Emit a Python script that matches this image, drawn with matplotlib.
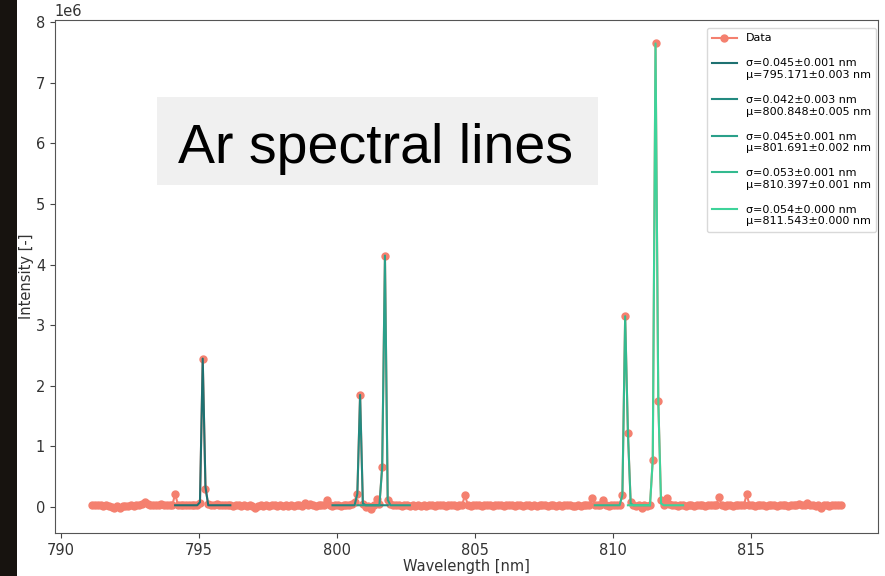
import numpy as np
import matplotlib
matplotlib.use("Agg")
import matplotlib.pyplot as plt
from matplotlib.patches import Rectangle
from matplotlib.legend_handler import HandlerLine2D

# spectrometer sampling grid (nm): 791.15 ... 818.25, step 0.1
WL_START, WL_STOP, WL_STEP = 791.15, 818.25, 0.1

# measured intensity, units of 1e6, one row per nm starting at 791.15
INTENSITY = [
    0.03, 0.04, 0.03, 0.04, 0.02, 0.03, 0.01, 0.00, -0.02, 0.01,   # 791.15
    -0.01, 0.01, 0.02, 0.01, 0.03, 0.02, 0.04, 0.03, 0.05, 0.08,   # 792.15
    0.05, 0.04, 0.03, 0.04, 0.03, 0.05, 0.03, 0.04, 0.04, 0.03,    # 793.15
    0.22, 0.04, 0.03, 0.04, 0.03, 0.03, 0.04, 0.03, 0.04, 0.07,    # 794.15
    2.45, 0.30, 0.05, 0.04, 0.03, 0.05, 0.03, 0.04, 0.03, 0.04,    # 795.15
    0.03, 0.02, 0.04, 0.03, 0.02, 0.03, 0.01, 0.03, 0.02, -0.01,   # 796.15
    0.02, 0.03, 0.02, 0.03, 0.02, 0.03, 0.04, 0.02, 0.03, 0.02,    # 797.15
    0.03, 0.02, 0.03, 0.01, 0.03, 0.04, 0.02, 0.06, 0.03, 0.05,    # 798.15
    0.03, 0.02, 0.04, 0.03, 0.04, 0.12, 0.03, 0.02, 0.04, 0.03,    # 799.15
    0.02, 0.03, 0.04, 0.03, 0.05, 0.08, 0.22, 1.85, 0.05, 0.00,    # 800.15
    0.01, -0.04, 0.04, 0.13, 0.05, 0.66, 4.15, 0.12, 0.05, 0.03,   # 801.15
    0.04, 0.03, 0.02, 0.03, 0.04, 0.02, 0.03, 0.01, 0.03, 0.02,    # 802.15
    0.03, 0.02, 0.04, 0.03, 0.02, 0.03, 0.04, 0.03, 0.02, 0.03,    # 803.15
    0.03, 0.04, 0.02, 0.03, 0.04, 0.20, 0.03, 0.02, 0.03, 0.04,    # 804.15
    0.03, 0.02, 0.03, 0.04, 0.03, 0.02, 0.03, 0.03, 0.04, 0.02,    # 805.15
    0.03, 0.04, 0.03, 0.02, 0.03, 0.03, 0.02, 0.04, 0.03, 0.02,    # 806.15
    0.03, 0.02, 0.04, 0.03, 0.03, 0.02, 0.03, 0.04, 0.01, 0.03,    # 807.15
    0.02, 0.03, 0.04, 0.03, 0.02, 0.01, 0.03, 0.02, 0.04, 0.03,    # 808.15
    0.03, 0.15, 0.04, 0.03, 0.04, 0.11, 0.03, 0.02, 0.04, 0.03,    # 809.15
    0.04, 0.03, 0.20, 3.15, 1.23, 0.09, 0.03, 0.02, 0.04, -0.01,   # 810.15
    0.03, 0.02, 0.04, 0.78, 7.65, 1.75, 0.11, 0.04, 0.15, 0.05,    # 811.15
    0.04, 0.03, 0.02, 0.04, 0.03, 0.02, 0.04, 0.03, 0.01, 0.03,    # 812.15
    0.04, 0.03, 0.02, 0.04, 0.03, 0.03, 0.04, 0.16, 0.03, 0.02,    # 813.15
    0.03, 0.04, 0.02, 0.03, 0.04, 0.03, 0.03, 0.21, 0.04, 0.03,    # 814.15
    0.02, 0.03, 0.04, 0.03, 0.02, 0.03, 0.04, 0.03, 0.02, 0.03,    # 815.15
    0.04, 0.03, 0.02, 0.03, 0.04, 0.03, 0.05, 0.03, 0.04, 0.06,    # 816.15
    0.03, 0.04, 0.02, 0.03, -0.01, 0.03, 0.04, 0.02, 0.03, 0.04,   # 817.15
    0.03, 0.03,                                                    # 818.15
]

# gaussian fits: window start (nm) and fitted values on the grid (1e6)
FIT_START = [794.15, 799.85, 800.75, 809.35, 810.55]
FIT_1 = [0.03] * 9 + [0.08, 2.45, 0.33] + [0.03] * 9
FIT_2 = [0.03] * 9 + [0.22, 1.85, 0.06] + [0.03] * 9
FIT_3 = [0.03] * 9 + [0.66, 4.15, 0.12] + [0.03] * 8
FIT_4 = [0.03] * 10 + [0.20, 3.15, 1.23, 0.06] + [0.03] * 7
FIT_5 = [0.03] * 9 + [0.78, 7.65, 1.75, 0.06] + [0.03] * 8
FIT_LABELS = [
    "σ=0.045±0.001 nm\nμ=795.171±0.003 nm",
    "σ=0.042±0.003 nm\nμ=800.848±0.005 nm",
    "σ=0.045±0.001 nm\nμ=801.691±0.002 nm",
    "σ=0.053±0.001 nm\nμ=810.397±0.001 nm",
    "σ=0.054±0.000 nm\nμ=811.543±0.000 nm",
]
FIT_COLORS = ["#1e7171", "#238a80", "#2aa08a", "#33ba8f", "#3ed39a"]

DATA_COLOR = "#f4806f"
AXIS_GRAY = "#444444"


class FirstLineHandler(HandlerLine2D):
    # put the legend line next to the first line of a two-line label
    def create_artists(self, legend, orig_handle, xdescent, ydescent, width,
                       height, fontsize, trans):
        arts = super().create_artists(legend, orig_handle, xdescent, ydescent,
                                      width, height, fontsize, trans)
        for a in arts:
            a.set_ydata(np.asarray(a.get_ydata()) + 0.6 * fontsize)
        return arts


wl = np.round(np.arange(WL_START, WL_STOP + WL_STEP / 2, WL_STEP), 2)
intensity = np.array(INTENSITY) * 1e6

fig = plt.figure(figsize=(8.85, 5.76), dpi=100)
ax = fig.add_axes([0.062, 0.075, 0.93, 0.89])

ax.plot(wl, intensity, "-o", color=DATA_COLOR, lw=1.5, ms=5, label="Data", zorder=2)
fit_lines = []
for start, vals, lab, col in zip(FIT_START, [FIT_1, FIT_2, FIT_3, FIT_4, FIT_5],
                                 FIT_LABELS, FIT_COLORS):
    i0 = int(np.argmin(np.abs(wl - start)))
    ln, = ax.plot(wl[i0:i0 + len(vals)], np.array(vals) * 1e6, color=col, lw=1.5,
                  label=lab, zorder=3)
    fit_lines.append(ln)

ax.set_xticks([790, 795, 800, 805, 810, 815])
ax.set_xlabel("Wavelength [nm]", fontsize=10.5, color="#333333", labelpad=1)
ax.set_ylabel("Intensity [-]", fontsize=10.5, color="#333333", labelpad=1)
ax.tick_params(labelsize=10.5, colors=AXIS_GRAY, labelcolor="#333333")
ax.yaxis.get_offset_text().set_fontsize(10.5)
for s in ax.spines.values():
    s.set_color("#555555")

leg = ax.legend(loc="upper right", bbox_to_anchor=(0.998, 0.985),
                borderaxespad=0, fontsize=8, labelspacing=1.35,
                handlelength=2.2, borderpad=0.5,
                handler_map={ln: FirstLineHandler() for ln in fit_lines})
leg.get_frame().set_edgecolor("#d0d0d0")

# dark photo edge on the left of the slide
fig.patches.append(Rectangle((0, 0), 17 / 885, 1, transform=fig.transFigure,
                             facecolor="#17130f", edgecolor="none", zorder=0))

# slide title box
fig.patches.append(Rectangle((157 / 885, 1 - 185 / 576), 441 / 885, 88 / 576,
                             transform=fig.transFigure, facecolor="#f0f0f0",
                             edgecolor="none", zorder=5))
fig.text(376 / 885, 1 - 163 / 576, "Ar spectral lines", ha="center",
         va="baseline", fontsize=40, family="Liberation Sans", color="black",
         zorder=6)

fig.savefig("out.png", dpi=100)
